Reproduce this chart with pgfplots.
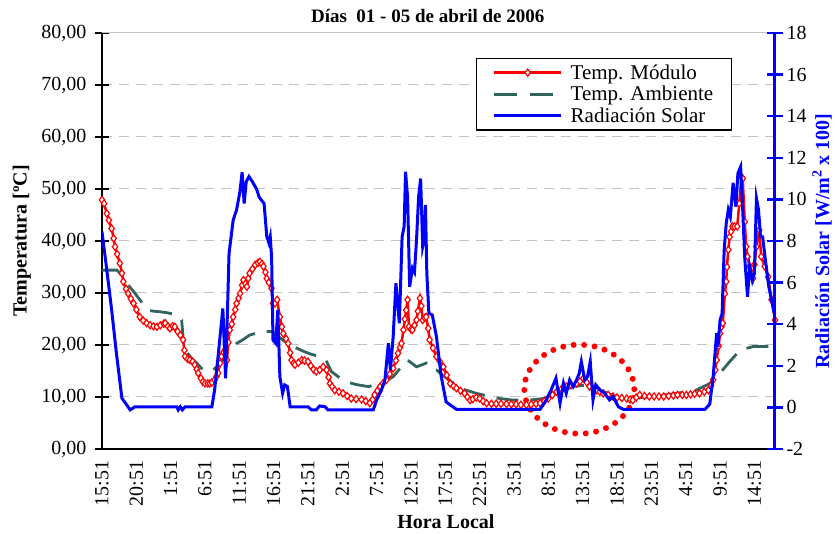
\documentclass[border=0pt]{standalone}
\usepackage{fontspec}
\setmainfont{Liberation Serif}
\usepackage{pgfplots}
\pgfplotsset{compat=1.18}
\definecolor{amb}{RGB}{50,100,95}
\definecolor{gridg}{RGB}{195,195,195}
\newcommand{\F}{\fontsize{20}{24}\selectfont}
\begin{document}
\begin{tikzpicture}
\pgfplotsset{every axis/.append style={font=\F},
  /pgf/number format/assume math mode=true}
\begin{axis}[
  scale only axis, width=673pt, height=416pt,
  xmin=0, xmax=98, ymin=0, ymax=80,
  axis x line*=bottom, axis y line*=left,
  x axis line style={-, black, line width=2pt},
  y axis line style={-, black, line width=2.5pt},
  xtick={0,5,...,95},
  xticklabels={15:51,20:51,1:51,6:51,11:51,16:51,21:51,2:51,7:51,12:51,17:51,22:51,3:51,8:51,13:51,18:51,23:51,4:51,9:51,14:51},
  xtick align=inside,
  x tick label style={rotate=90, anchor=east, font=\F},
  xticklabel shift=8pt,
  major x tick style={draw=none},
  ytick={0,10,...,80},
  ytick align=center,
  major tick length=14pt,
  y tick style={black, line width=2pt},
  y tick label style={font=\F, xshift=-5pt, /pgf/number format/.cd, fixed, fixed zerofill, precision=2, use comma},
  ymajorgrids,
  grid style={gridg, line width=1pt, dash pattern=on 10pt off 7pt},
  xlabel={Hora Local},
  ylabel={Temperatura [ºC]},
  title={Días\ \ 01 - 05 de abril de 2006},
  every axis x label/.style={at={(axis description cs:0.511,-0.175)}, anchor=center, font=\F\bfseries},
  every axis y label/.style={at={(axis description cs:-0.119,0.5)}, rotate=90, anchor=center, font=\F\bfseries},
  every axis title/.style={at={(axis description cs:0.484,1.04)}, anchor=center, font=\fontsize{19}{23}\selectfont\bfseries},
]
\coordinate (SW) at (rel axis cs:0,0);
\draw[gridg, line width=1pt] (rel axis cs:0,1) -- (rel axis cs:1,1);
\addplot[amb, line width=2.8pt, dash pattern=on 22pt off 12pt] coordinates {
(0,34.4)(1.0,34.4)(2.2,34.4)(2.6,33.8)(3.5,32.0)(4.6,30.3)(5.5,28.7)(6.7,26.7)(7.5,26.5)(8.4,26.4)(9.5,26.2)(10.9,25.8)(11.6,24.8)(11.8,21.6)(12.3,18.7)(13.0,17.5)(13.8,16.5)(14.5,15.5)(15.2,14.9)(16.2,15.2)(17.2,16.5)(18.4,18.7)(19.6,20.3)(20.5,21.0)(21.5,21.9)(22.5,22.3)(23.5,22.6)(24.7,22.6)(25.5,21.8)(26.5,20.8)(27.4,20.0)(28.5,19.3)(29.5,18.7)(30.5,18.2)(31.7,17.8)(32.5,17.4)(33.0,16.0)(33.4,14.9)(34.5,13.8)(35.6,12.9)(37.0,12.4)(38.8,12.0)(40.5,12.6)(41.5,13.2)(42.4,13.9)(43.4,15.5)(43.9,16.2)(44.5,17.1)(45.1,16.5)(45.8,15.8)(47.2,16.5)(47.7,15.5)(48.7,15.2)(49.8,14.0)(51.0,12.8)(52.1,11.7)(53.3,11.2)(54.5,10.7)(56.2,10.2)(57.9,9.7)(59.9,9.4)(62.3,9.4)(64.2,9.7)(66.2,10.7)(67.5,11.4)(68.6,12.0)(70.5,12.3)(72.5,11.3)(74.9,10.1)(77.3,9.7)(80.2,10.1)(83.6,10.7)(86.5,11.3)(88.5,12.6)(90.0,14.6)(91.4,16.8)(92.9,19.0)(94.8,19.7)(98.0,19.7)
};
\addplot[red, line width=2.5pt, mark=diamond*, mark size=3.6pt, mark options={solid, fill=white, draw=red, line width=1.2pt}] coordinates {
(0.0,47.9)(0.3,47.2)(0.7,45.3)(1.0,44.0)(1.4,42.4)(1.7,40.5)(1.9,38.9)(2.2,37.5)(2.6,35.7)(2.9,33.8)(3.1,32.2)(3.5,30.8)(3.8,29.9)(4.2,28.9)(4.6,28.0)(5.0,26.8)(5.5,25.4)(6.0,24.7)(6.5,24.2)(7.0,23.8)(7.5,23.6)(8.0,23.5)(8.5,23.8)(9.0,24.1)(9.2,24.2)(9.6,23.6)(9.9,23.2)(10.3,23.6)(10.6,23.5)(11.0,22.6)(11.4,21.9)(11.8,21.0)(12.0,19.0)(12.1,17.8)(12.5,17.3)(12.8,17.1)(13.2,16.8)(13.5,16.2)(13.8,15.3)(14.0,14.6)(14.4,13.6)(14.7,12.9)(15.0,12.6)(15.4,12.6)(15.7,12.6)(16.0,12.8)(16.4,13.3)(16.7,14.0)(16.9,14.6)(17.2,16.5)(17.4,17.8)(17.7,18.6)(17.9,19.0)(18.2,17.1)(18.4,20.5)(18.6,22.9)(18.9,24.0)(19.1,25.4)(19.4,26.8)(19.6,28.0)(19.9,29.0)(20.1,29.9)(20.4,31.5)(20.6,32.5)(20.9,31.8)(21.1,31.2)(21.3,32.8)(21.5,33.8)(21.9,34.6)(22.3,35.4)(22.7,35.8)(23.0,36.0)(23.3,35.6)(23.5,35.1)(23.8,34.0)(24.0,32.8)(24.3,32.0)(24.7,30.9)(24.9,28.0)(25.2,28.0)(25.5,28.7)(25.9,25.4)(26.2,23.5)(26.4,22.2)(26.8,21.2)(27.1,20.3)(27.4,18.5)(27.6,17.1)(27.9,16.5)(28.1,16.2)(28.6,16.6)(29.1,17.1)(29.5,17.0)(30.0,16.8)(30.4,16.0)(30.8,15.3)(31.2,14.9)(31.7,15.2)(32.2,15.8)(32.7,15.2)(33.0,13.8)(33.2,12.6)(33.5,12.0)(33.9,11.3)(34.5,11.0)(35.1,10.7)(35.7,10.2)(36.3,9.7)(37.0,9.6)(37.8,9.5)(38.4,9.2)(39.0,8.8)(39.4,9.5)(39.7,10.4)(40.1,11.2)(40.5,12.0)(40.9,12.6)(41.4,13.3)(41.9,14.4)(42.4,15.5)(42.8,17.0)(43.1,18.4)(43.4,19.5)(43.6,20.3)(43.9,22.9)(44.1,25.0)(44.3,26.7)(44.5,28.7)(44.7,23.5)(45.0,23.0)(45.2,22.9)(45.5,23.8)(45.8,24.8)(46.0,26.5)(46.3,29.0)(46.5,27.5)(46.7,24.8)(47.0,25.2)(47.2,25.4)(47.5,23.2)(47.7,21.0)(48.2,19.4)(48.7,17.8)(49.2,16.8)(49.7,15.8)(50.2,14.2)(50.7,12.6)(51.2,12.1)(51.6,11.7)(52.2,11.2)(52.8,10.7)(53.2,10.0)(53.6,9.4)(54.0,9.6)(54.5,9.9)(55.0,9.7)(55.5,9.2)(56.0,8.8)(56.7,8.7)(57.4,8.7)(58.1,8.7)(58.9,8.65)(59.6,8.6)(60.3,8.6)(61.0,8.5)(61.8,8.5)(62.5,8.6)(63.2,8.7)(63.8,8.8)(64.4,9.2)(65.0,9.7)(65.6,10.4)(66.2,11.0)(66.9,11.5)(67.6,12.0)(68.3,12.3)(69.1,12.6)(69.6,13.0)(70.1,13.6)(70.6,12.8)(71.0,12.0)(71.5,11.6)(72.0,11.3)(72.5,11.0)(73.0,10.7)(73.7,10.4)(74.4,10.1)(75.0,9.9)(75.7,9.8)(76.4,9.7)(76.9,9.5)(77.3,9.4)(77.8,9.9)(78.3,10.4)(79.0,10.2)(79.7,10.1)(80.4,10.1)(81.1,10.1)(81.8,10.1)(82.5,10.2)(83.2,10.3)(83.8,10.4)(84.5,10.4)(85.1,10.4)(85.7,10.5)(86.3,10.6)(87.0,10.7)(87.7,11.0)(88.3,11.3)(88.7,12.2)(89.0,13.3)(89.3,15.2)(89.5,17.1)(89.8,19.8)(90.0,22.2)(90.2,23.5)(90.4,24.2)(90.7,29.9)(90.9,32.2)(91.0,35.0)(91.2,38.3)(91.4,40.8)(91.6,41.8)(91.8,42.8)(92.1,42.8)(92.5,42.8)(92.8,47.2)(93.1,52.4)(93.3,52.0)(93.6,43.7)(93.8,38.9)(94.0,37.0)(94.3,35.1)(94.5,34.0)(94.8,32.8)(95.0,35.5)(95.3,38.9)(95.7,42.1)(96.0,37.0)(96.5,35.1)(97.0,33.1)(97.5,28.7)(98.0,24.8)
};
\draw[red, line width=6pt, line cap=round, dash pattern=on 0pt off 10.5pt] (axis cs:69.5,11.5) ellipse [x radius=55pt, y radius=44.5pt];
\end{axis}
\begin{axis}[
  scale only axis, width=673pt, height=416pt,
  xmin=0, xmax=98, ymin=-2, ymax=18,
  axis x line=none, axis y line*=right,
  y axis line style={-, blue, line width=3pt},
  ytick={-2,0,...,18},
  ytick align=center, major tick length=16pt,
  y tick style={blue, line width=2.5pt},
  y tick label style={font=\F},
  ylabel={Radiación Solar [W/m\textsuperscript{2} x 100]},
  every axis y label/.style={at={(axis description cs:1.07,0.5)}, rotate=90, anchor=center, font=\F\bfseries, text=blue},
  legend cell align=left,
  legend image code/.code={\draw[mark repeat=2, mark phase=2, #1] plot coordinates {(0pt,0pt) (33.5pt,0pt) (67pt,0pt)};},
  legend style={at={(0.936,0.94)}, anchor=north east, draw=black, line width=1.3pt, fill=white, font=\fontsize{21}{25}\selectfont, inner xsep=16pt, inner ysep=4pt, row sep=1.5pt,
    /tikz/every odd column/.append style={column sep=6pt}},
]
\addlegendimage{red, line width=2.5pt, mark=diamond*, mark size=3.6pt, mark options={solid, fill=white, draw=red, line width=1.2pt}}
\addlegendentry{Temp. Módulo}
\addlegendimage{amb, line width=3pt, dash pattern=on 23pt off 13pt}
\addlegendentry{Temp. Ambiente}
\addplot[blue, line width=3pt] coordinates {
(0,8.45)(0.7,6.6)(1.4,4.7)(2.1,2.6)(2.9,0.44)(3.6,0.12)(4.1,-0.12)(4.8,0.03)(10.9,0.03)(11.1,-0.12)(11.4,0.03)(11.7,-0.12)(12.1,0.03)(16.0,0.03)(16.4,0.84)(16.9,2.44)(17.6,4.76)(18.0,1.40)(18.5,7.4)(19.1,9.0)(19.6,9.5)(20.1,10.4)(20.4,11.3)(20.7,9.8)(21.0,10.85)(21.4,11.1)(21.9,10.85)(22.5,10.5)(22.9,10.1)(23.6,9.8)(23.8,9.0)(24.0,8.2)(24.3,7.9)(24.5,8.2)(24.7,7.2)(24.9,3.24)(25.3,3.08)(25.6,4.68)(25.9,1.48)(26.3,0.68)(26.6,1.08)(27.0,1.0)(27.4,0.03)(30.0,0.03)(30.5,-0.12)(31.2,-0.12)(31.7,0.07)(32.5,0.03)(32.9,-0.12)(39.5,-0.12)(40.0,0.36)(40.7,0.84)(41.2,1.32)(41.7,3.08)(42.0,1.8)(42.4,3.4)(42.8,5.97)(43.3,4.04)(43.7,8.2)(44.0,8.7)(44.2,11.33)(44.5,10.1)(44.8,5.8)(45.2,6.69)(45.5,6.5)(45.8,8.05)(46.1,10.1)(46.4,11.0)(46.7,7.73)(46.9,8.05)(47.1,9.73)(47.3,6.45)(47.6,4.52)(48.1,4.44)(48.7,3.4)(49.4,1.48)(50.1,0.27)(50.7,0.12)(51.6,-0.09)(63.8,-0.09)(64.7,0.36)(65.4,0.84)(66.1,1.4)(66.7,0.2)(67.2,1.16)(67.6,0.68)(68.1,1.32)(68.6,1.0)(69.1,1.32)(69.5,1.64)(69.8,2.2)(70.3,1.32)(70.7,1.48)(71.1,2.2)(71.5,0.36)(71.9,1.08)(72.5,0.84)(73.2,0.68)(73.9,0.36)(74.4,0.52)(75.2,0.03)(75.9,-0.09)(87.8,-0.09)(88.5,0.15)(89.0,1.5)(89.5,3.56)(89.7,2.9)(90.0,4.2)(90.3,4.52)(90.6,7.57)(90.9,8.85)(91.2,9.5)(91.5,9.17)(91.9,10.8)(92.3,9.65)(92.6,11.25)(93.0,11.57)(93.3,9.5)(93.6,7.17)(94.0,5.32)(94.3,6.76)(94.7,6.1)(95.0,6.44)(95.3,10.05)(95.6,9.5)(95.9,8.2)(96.2,8.2)(96.6,7.08)(97.1,5.8)(98.0,4.36)
};
\addlegendentry{Radiación Solar}
\end{axis}
\pgfresetboundingbox
\path[use as bounding box] ([shift={(-102pt,-85pt)}]SW) rectangle ++(835pt,534pt);
\end{tikzpicture}
\end{document}
